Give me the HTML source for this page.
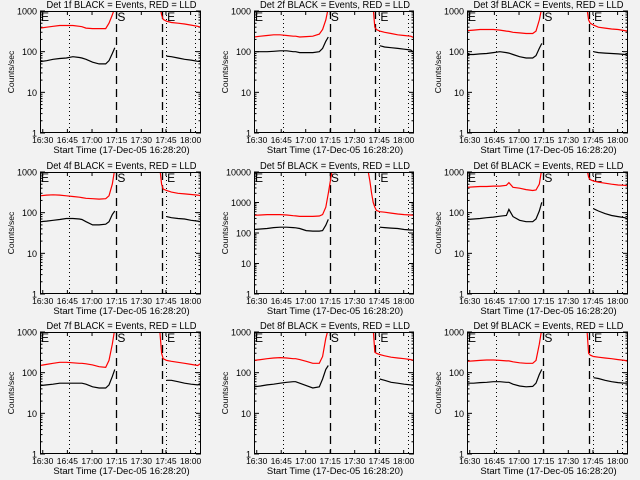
<!DOCTYPE html>
<html><head><meta charset="utf-8"><style>
html,body{margin:0;padding:0;background:#f2f2f2;}
svg{display:block;font-family:"Liberation Sans",sans-serif;}
</style></head><body>
<svg id="chart" width="640" height="480" viewBox="0 0 640 480">
<rect width="640" height="480" fill="#f2f2f2"/>
</svg>
<script>
// Shared time grid (minutes after 16:28:20)
const times = [0,4,8,12,16,20,24,25.5,28,32,36,40,42,44,45.5,47,48,68,70,71,72,73,74,75,77,80,84,88,92,96,98];
const N = null;
const red1 = [380,400,420,440,440,440,420,410,380,370,370,370,500,800,1200,N,N,N,N,N,N,1300,800,620,560,520,500,480,450,420,400];
const black1 = [57,60,65,68,70,75,72,70,65,55,50,50,60,90,125,N,N,N,N,N,N,N,N,N,78,75,70,65,62,58,57];
const red2 = [230,240,250,260,260,250,240,240,230,235,240,270,350,600,1200,N,N,N,N,N,N,1200,400,350,320,300,280,260,250,240,220];
const black2 = [100,100,100,102,105,105,100,100,95,95,95,100,120,180,230,N,N,N,N,N,N,N,N,N,140,130,125,120,115,110,95];
const red3 = [330,340,350,350,350,340,320,315,300,290,280,280,320,600,1200,N,N,N,N,N,N,1200,600,500,450,400,380,360,350,330,320];
const black3 = [85,85,88,90,95,100,95,92,85,75,70,70,80,120,160,N,N,N,N,N,N,N,N,N,100,95,92,90,88,85,88];
const red4 = [260,270,275,270,260,250,240,235,225,220,215,220,260,500,1200,N,N,N,N,N,N,1200,500,380,350,320,300,290,280,270,260];
const black4 = [60,62,65,68,72,72,70,68,60,50,50,52,60,90,110,N,N,N,N,N,N,N,N,N,80,75,72,70,65,62,60];
const red5 = [380,390,400,400,400,390,370,365,350,350,350,360,400,700,2000,6000,12000,12000,10000,5000,2000,1000,700,550,500,480,450,420,400,390,380];
const black5 = [130,135,140,150,155,155,150,148,140,120,115,115,120,180,280,N,N,N,N,N,N,N,N,N,155,150,145,140,130,125,125];
const red6 = [420,430,440,440,450,450,470,550,420,400,370,350,360,500,1200,N,N,N,N,N,N,1200,750,650,600,560,530,500,480,470,450];
const black6 = [68,70,72,75,78,82,85,120,80,65,60,60,70,110,180,N,N,N,N,N,N,N,N,N,125,110,95,85,80,75,70];
const red7 = [150,160,170,180,180,175,170,170,165,155,140,135,200,500,1200,N,N,N,N,N,N,1000,300,220,200,190,180,170,160,150,170];
const black7 = [48,50,52,55,55,55,55,55,52,45,42,42,50,80,120,N,N,N,N,N,N,N,N,N,65,65,60,55,52,50,55];
const red8 = [200,210,220,230,235,230,220,220,210,190,170,170,250,700,1200,N,N,N,N,N,N,1200,320,300,280,260,240,230,220,210,200];
const black8 = [45,47,50,52,55,58,60,60,55,48,42,45,70,120,150,N,N,N,N,N,N,N,N,N,70,65,58,55,52,50,48];
const red9 = [190,195,200,205,205,200,195,195,185,175,170,170,200,500,1200,N,N,N,N,N,N,1200,300,270,250,240,230,220,210,200,190];
const black9 = [55,55,57,58,60,60,58,58,52,47,45,46,55,90,120,N,N,N,N,N,N,N,N,N,75,72,65,60,57,55,55];
const reds = [red1,red2,red3,red4,red5,red6,red7,red8,red9];
const blacks = [black1,black2,black3,black4,black5,black6,black7,black8,black9];
const yMaxDecades = [3,3,3,3,4,3,3,3,3];
const xTickLabels = ["16:30","16:45","17:00","17:15","17:30","17:45","18:00"];
const xTickMinutes = [1.67,16.67,31.67,46.67,61.67,76.67,91.67];
const dottedMarkers = [17.6,76.8,94.5];
const dashedMarkers = [46.5,74];
const tMax = 98;

const NS = "http://www.w3.org/2000/svg";
const svg = document.getElementById('chart');
function mk(tag, attrs, parent){
  const e = document.createElementNS(NS, tag);
  for (const k in attrs) e.setAttribute(k, attrs[k]);
  (parent||svg).appendChild(e);
  return e;
}
const colLeft = [40,254,467];
const colWidth = [161,160,161];
const rowTop = [11,172,332];
const plotH = 122;

for (let p=0;p<9;p++){
  const c=p%3, r=Math.floor(p/3);
  const L=colLeft[c], W=colWidth[c], T=rowTop[r], B=T+plotH, R=L+W;
  const dec=yMaxDecades[p];
  const xs = t => L + t/tMax*W;
  const ys = v => B - Math.log10(v)/dec*plotH;
  const g = mk('g',{});
  
  
  const title = mk('text',{x:(L+R)/2-74,y:T-3,'font-size':'10',fill:'#000',textLength:'150',lengthAdjust:'spacingAndGlyphs'},g);
  title.textContent='Det '+(p+1)+'f BLACK = Events, RED = LLD';
  
  
  const clipId='clip'+p;
  const cp=mk('clipPath',{id:clipId},g);
  mk('rect',{x:L,y:T,width:W,height:plotH},cp);
  for (let d=0; d<=dec; d++){
    const y=ys(Math.pow(10,d));
    mk('line',{x1:L,x2:L+5,y1:y,y2:y,stroke:'#000','stroke-width':1},g);
    mk('line',{x1:R-5,x2:R,y1:y,y2:y,stroke:'#000','stroke-width':1},g);
    const lb=mk('text',{x:L-3,y:y+3.5,'text-anchor':'end','font-size':'9',fill:'#000'},g);
    lb.textContent=String(Math.pow(10,d));
    
    
    if (d<dec) for (let m=2;m<10;m++){
      const ym=ys(m*Math.pow(10,d));
      mk('line',{x1:L,x2:L+2.5,y1:ym,y2:ym,stroke:'#000','stroke-width':1},g);
      mk('line',{x1:R-2.5,x2:R,y1:ym,y2:ym,stroke:'#000','stroke-width':1},g);
    }
  }
  xTickMinutes.forEach((t,i)=>{
    const x=xs(t);
    mk('line',{x1:x,x2:x,y1:B,y2:B-4,stroke:'#000','stroke-width':1},g);
    mk('line',{x1:x,x2:x,y1:T,y2:T+4,stroke:'#000','stroke-width':1},g);
    const lb=mk('text',{x:x,y:B+10,'text-anchor':'middle','font-size':'8.5',fill:'#000'},g);
    lb.textContent=xTickLabels[i];
    
    
  });
  const xt=mk('text',{x:(L+R)/2+1,y:B+20,'text-anchor':'middle','font-size':'9.5',fill:'#000'},g);
  xt.textContent='Start Time (17-Dec-05 16:28:20)';
  
  
  const yt=mk('text',{x:0,y:0,'text-anchor':'middle','font-size':'8.5',fill:'#000',transform:'translate('+(L-26)+','+(T+plotH/2)+') rotate(-90)'},g);
  yt.textContent='Counts/sec';
  
  
  dottedMarkers.forEach(t=>{
    const x=Math.round(xs(t))+0.5;
    const ln=mk('line',{x1:x,x2:x,y1:T,y2:B,stroke:'#000','stroke-width':1,'stroke-dasharray':'1,3'},g);
    
    
  });
  dashedMarkers.forEach(t=>{
    const x=Math.round(xs(t))+0.5;
    const ln=mk('line',{x1:x,x2:x,y1:T,y2:B,stroke:'#000','stroke-width':1.3,'stroke-dasharray':'8,5'},g);
    
    
  });
  [[L+1,'E'],[xs(dashedMarkers[0])+1,'S'],[xs(dottedMarkers[1])+1,'E']].forEach(a=>{
    const lb=mk('text',{x:a[0],y:T+10,'font-size':'12',fill:'#000'},g);
    lb.textContent=a[1];
    
    
  });
  function path(vals){
    let d='', pen=false;
    vals.forEach((v,i)=>{
      if (v===null){pen=false;return;}
      d+=(pen?'L':'M')+xs(times[i]).toFixed(1)+','+ys(v).toFixed(1);
      pen=true;
    });
    return d;
  }
  const rp=mk('path',{d:path(reds[p]),fill:'none',stroke:'#ff0000','stroke-width':1.2,'clip-path':'url(#'+clipId+')'},g);
  
  
  const bp=mk('path',{d:path(blacks[p]),fill:'none',stroke:'#000','stroke-width':1.2,'clip-path':'url(#'+clipId+')'},g);
  
  
  const fr=mk('rect',{x:L+0.5,y:T+0.5,width:W-1,height:plotH-1,fill:'none',stroke:'#000','stroke-width':1},g);
  
  
}
</script>
</body></html>
